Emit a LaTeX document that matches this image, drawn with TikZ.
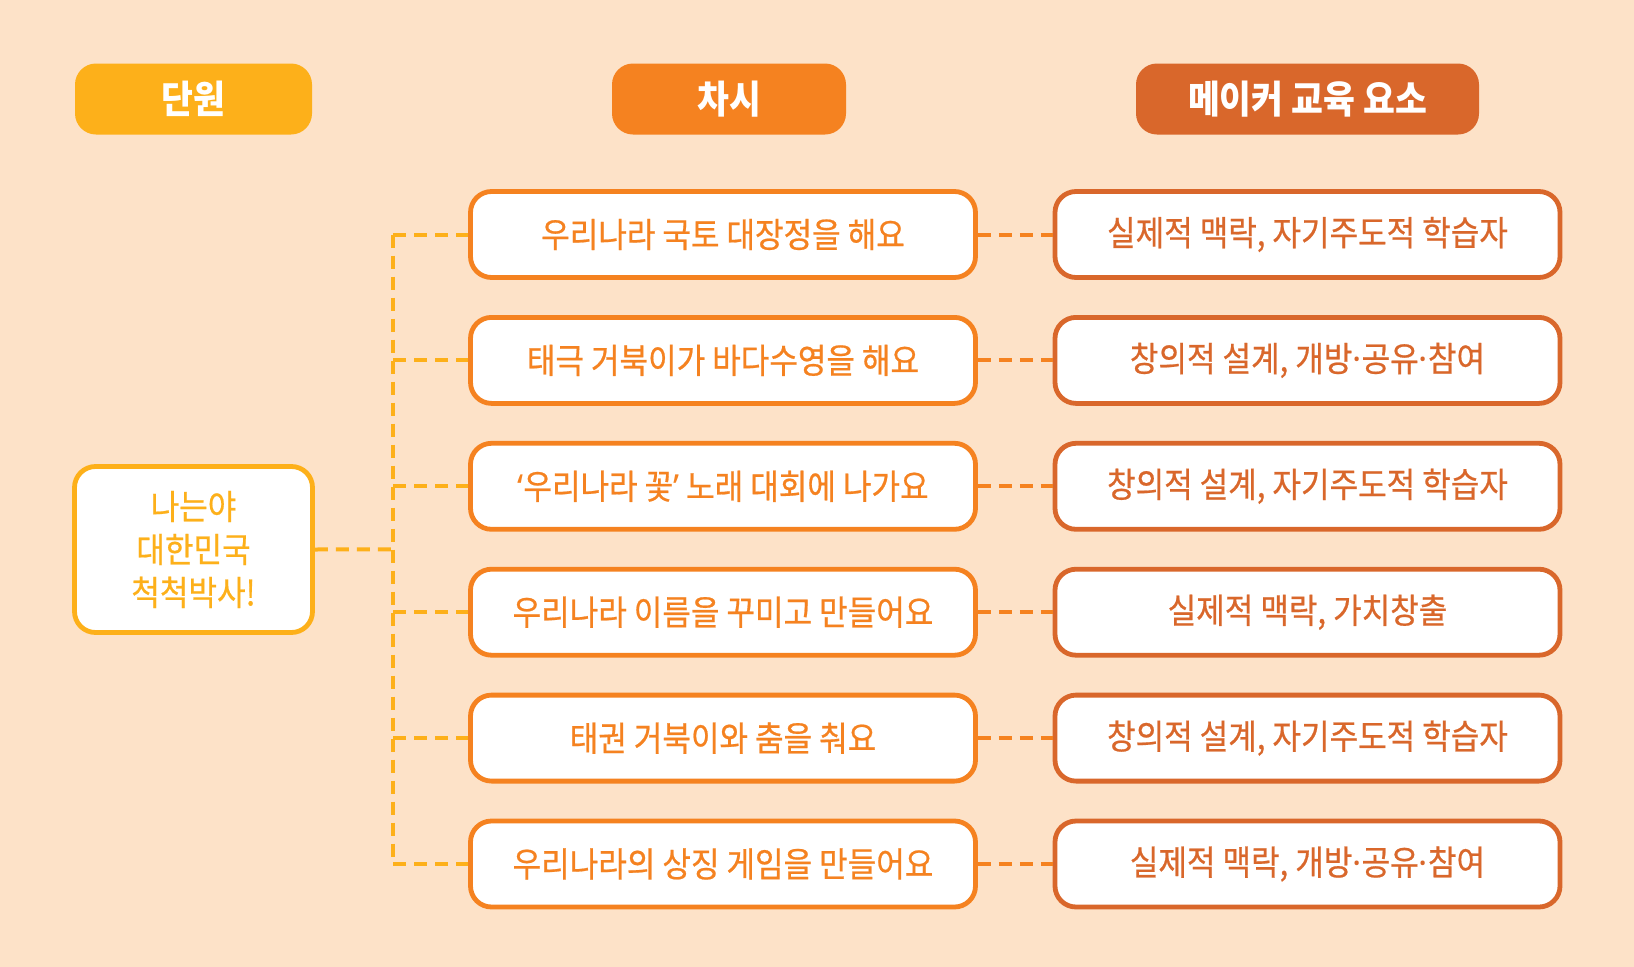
\documentclass[tikz,border=0pt]{standalone}
\usepackage{fontspec}
\newfontfamily\kr{Noto Sans CJK KR}[FakeStretch=0.9]
\newfontfamily\krm{Noto Sans CJK KR}[FakeStretch=0.9,FakeBold=0.6]
\newfontfamily\lat{Noto Sans}
\newcommand{\mdot}{{\lat ·}}
\newcommand{\lqm}{{\lat ‘}}
\newcommand{\rqm}{{\lat ’}}
\definecolor{bg}{RGB}{253,226,200}
\definecolor{cy}{RGB}{253,176,26}
\definecolor{co}{RGB}{245,130,32}
\definecolor{cd}{RGB}{217,103,43}
\begin{document}
\begin{tikzpicture}[x=1pt,y=-1pt,
  hdr/.style={rounded corners=21pt, minimum height=71pt, text=white, inner sep=0pt,
    font=\kr\bfseries\fontsize{38.5}{42}\selectfont},
  midbox/.style={draw=co, line width=4.8pt, fill=white, rounded corners=21pt,
    minimum width=505pt, minimum height=86pt, inner sep=0pt, text=co,
    font=\krm\fontsize{34.5}{38}\selectfont},
  rightbox/.style={midbox, draw=cd, text=cd},
  leftbox/.style={draw=cy, line width=4.8pt, fill=white, rounded corners=21pt,
    minimum width=238pt, minimum height=166pt, inner sep=0pt, text=cy, align=center,
    font=\krm\fontsize{34.5}{43}\selectfont},
  yconn/.style={draw=cy, line width=4pt, dash pattern=on 13pt off 8pt},
  oconn/.style={draw=co, line width=4pt, dash pattern=on 13pt off 8pt}
]
\fill[bg] (0,0) rectangle (1634,967);
\useasboundingbox (0,0) rectangle (1634,967);

\node[hdr, fill=cy, minimum width=237pt] (h1) at (193.5,99) {단원};
\node[hdr, fill=co, minimum width=234pt] (h2) at (729,99) {차시};
\node[hdr, fill=cd, minimum width=343pt] (h3) at (1307.5,99) {메이커 교육 요소};

\node[leftbox] (L) at (193.5,549.5) {나는야\\대한민국\\척척박사!};

\foreach \i/\y/\m/\r in {
  1/234.5/{우리나라 국토 대장정을 해요}/{실제적 맥락, 자기주도적 학습자},
  2/360.4/{태극 거북이가 바다수영을 해요}/{창의적 설계, 개방\mdot 공유\mdot 참여},
  3/486.3/{\lqm 우리나라 꽃\rqm{} 노래 대회에 나가요}/{창의적 설계, 자기주도적 학습자},
  4/612.2/{우리나라 이름을 꾸미고 만들어요}/{실제적 맥락, 가치창출},
  5/738.1/{태권 거북이와 춤을 춰요}/{창의적 설계, 자기주도적 학습자},
  6/864.0/{우리나라의 상징 게임을 만들어요}/{실제적 맥락, 개방\mdot 공유\mdot 참여}}{
  \node[midbox] (m\i) at (723,\y) {\m};
  \node[rightbox] (r\i) at (1307.5,\y) {\r};
  \coordinate (b\i) at (393,\y);
  \draw[oconn] (m\i.east) -- (r\i.west);
  \draw[yconn] (b\i) -- (m\i.west);
}
\coordinate (bc) at (393,549.25);
\draw[yconn] (b1) -- (b6);
\draw[yconn] (L.east) -- (bc);
\end{tikzpicture}
\end{document}
